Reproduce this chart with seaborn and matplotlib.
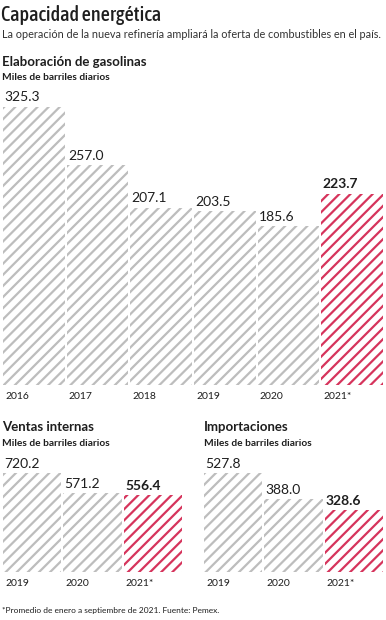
import matplotlib
matplotlib.use('Agg')
import matplotlib.pyplot as plt
from matplotlib import font_manager as fm
import seaborn as sns
import pandas as pd

# ---- data ----
gas_years = ['2016', '2017', '2018', '2019', '2020', '2021*']
gas_values = [325.3, 257.0, 207.1, 203.5, 185.6, 223.7]
ventas_years = ['2019', '2020', '2021*']
ventas_values = [720.2, 571.2, 556.4]
imp_years = ['2019', '2020', '2021*']
imp_values = [527.8, 388.0, 328.6]
highlight = '2021*'

title = 'Capacidad energética'
subtitle = 'La operación de la nueva refinería ampliará la oferta de combustibles en el país.'
gas_title = 'Elaboración de gasolinas'
ventas_title = 'Ventas internas'
imp_title = 'Importaciones'
unit = 'Miles de barriles diarios'
footnote = '*Promedio de enero a septiembre de 2021. Fuente: Pemex.'

# ---- style ----
sns.set_theme(style='white')
plt.rcParams['font.family'] = ['Lato', 'DejaVu Sans']
plt.rcParams['hatch.linewidth'] = 1.6
GRAY = '#bdbdbd'
RED = '#d6345c'
TXT = '#1e1e1e'


def _w(f):
    return f.weight if isinstance(f.weight, int) else 400


# pick a condensed face (regular/medium weight) for the title if one is installed
cond = [f for f in fm.fontManager.ttflist
        if ('Condensed' in f.name or 'Narrow' in f.name or
            (isinstance(f.stretch, int) and f.stretch < 500) or
            f.stretch in ('condensed', 'semi-condensed', 'extra-condensed'))
        and f.style == 'normal']
title_kw = dict(family=['DejaVu Sans'], fontsize=13)
if cond:
    pref = sorted(cond, key=lambda f: abs(_w(f) - 500))
    title_kw = dict(fontproperties=fm.FontProperties(fname=pref[0].fname, size=14.6))

W, H = 386, 620
fig = plt.figure(figsize=(W / 100, H / 100), dpi=100)
fig.patch.set_facecolor('white')


def fx(px):
    return px / W


def fy(py):
    return 1 - py / H


def add_panel(left, right, top, bottom, ymax, years, values):
    ax = fig.add_axes([fx(left), fy(bottom), (right - left) / W, (bottom - top) / H])
    df = pd.DataFrame({'year': years, 'value': values})
    colors = {y: (RED if y == highlight else GRAY) for y in years}
    sns.barplot(data=df, x='year', y='value', hue='year', palette=colors,
                legend=False, width=0.97, saturation=1, ax=ax)
    ax.set_xlim(-0.5, len(years) - 0.5)
    ax.set_ylim(0, ymax)
    for p, y, v in zip(ax.patches, years, values):
        c = colors[y]
        p.set_facecolor('white')
        p.set_edgecolor(c)
        p.set_hatch('///')
        p.set_linewidth(0)
        bold = (y == highlight)
        ax.annotate(f'{v:.1f}', xy=(p.get_x(), p.get_height()), xytext=(1, 2.5),
                    textcoords='offset points', ha='left', va='bottom',
                    fontsize=10, color=TXT, fontweight='bold' if bold else 'normal',
                    annotation_clip=False)
        ax.annotate(y, xy=(p.get_x(), 0), xytext=(1.5, -5),
                    textcoords='offset points', ha='left', va='top',
                    fontsize=7.5, color=TXT, annotation_clip=False)
    ax.set_xticks([])
    ax.set_yticks([])
    ax.set_xlabel('')
    ax.set_ylabel('')
    for s in ax.spines.values():
        s.set_visible(False)
    ax.patch.set_alpha(0)
    return ax


add_panel(2, 384, 100, 385, 285 / 0.855, gas_years, gas_values)
add_panel(2, 183, 465, 572, 107 / 0.1375, ventas_years, ventas_values)
add_panel(203, 384, 465, 572, 107 / 0.1876, imp_years, imp_values)

fig.text(fx(1), fy(15), title, ha='left', va='center', color=TXT, **title_kw)
fig.text(fx(2), fy(34), subtitle, ha='left', va='center', fontsize=7.8, color='#333333')
fig.text(fx(2), fy(62), gas_title, ha='left', va='center', fontsize=9.5,
         fontweight='bold', color=TXT)
fig.text(fx(2), fy(77), unit, ha='left', va='center', fontsize=7.3,
         fontweight='bold', color=TXT)
fig.text(fx(2), fy(427), ventas_title, ha='left', va='center', fontsize=9.5,
         fontweight='bold', color=TXT)
fig.text(fx(2), fy(443), unit, ha='left', va='center', fontsize=7.3,
         fontweight='bold', color=TXT)
fig.text(fx(204), fy(427), imp_title, ha='left', va='center', fontsize=9.5,
         fontweight='bold', color=TXT)
fig.text(fx(204), fy(443), unit, ha='left', va='center', fontsize=7.3,
         fontweight='bold', color=TXT)
fig.text(fx(2), fy(611), footnote, ha='left', va='center', fontsize=6, color=TXT)

fig.savefig('out.png', dpi=100, facecolor='white')
